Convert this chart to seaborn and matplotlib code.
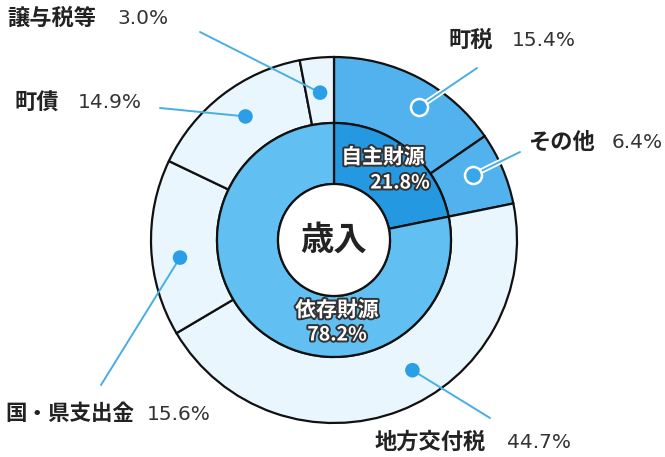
import numpy as np
import matplotlib
matplotlib.use("Agg")
import matplotlib.pyplot as plt
import matplotlib.patheffects as pe
import seaborn as sns

# ---- data ----
outer_labels = ["町税", "その他", "地方交付税", "国・県支出金", "町債", "譲与税等"]
outer_values = [15.4, 6.4, 44.7, 15.6, 14.9, 3.0]
inner_labels = ["自主財源", "依存財源"]
inner_values = [21.8, 78.2]
center_label = "歳入"

# ---- style ----
sns.set_theme(style="white")
plt.rcParams['font.family'] = ['Noto Sans CJK JP', 'DejaVu Sans']

W, H = 665, 457
fig = plt.figure(figsize=(W / 100, H / 100), dpi=100)
ax = fig.add_axes([0, 0, 1, 1])
ax.set_xlim(0, W)
ax.set_ylim(0, H)
ax.set_aspect('equal')
ax.axis('off')

def Y(y):
    return H - y

cx, cy = 334, Y(240)
R_out, R_in, R_hole = 183, 117, 56

outer_colors = ["#52B2EE", "#52B2EE", "#E9F6FD", "#E9F6FD", "#E9F6FD", "#E9F6FD"]
inner_colors = ["#2598E2", "#62BFF2"]
edge = dict(edgecolor="#111111", linewidth=1.6)

ax.pie(outer_values, radius=R_out, center=(cx, cy), colors=outer_colors,
       startangle=90, counterclock=False,
       wedgeprops=dict(width=R_out - R_in, **edge))
ax.pie(inner_values, radius=R_in, center=(cx, cy), colors=inner_colors,
       startangle=90, counterclock=False,
       wedgeprops=dict(width=R_in - R_hole, **edge))
ax.add_patch(plt.Circle((cx, cy), R_hole, facecolor="white", edgecolor="#111111",
                        linewidth=1.6, zorder=3))
ax.set_xlim(0, W)
ax.set_ylim(0, H)

ax.text(cx, cy, center_label, ha='center', va='center', fontsize=24,
        fontweight='bold', color="#222222", zorder=5)

# inner labels
stroke = [pe.withStroke(linewidth=2.8, foreground="#333333")]
inner_pos = [((383, 157), (400, 183)), ((337, 310), (337, 335))]
for (lab, val, (p1, p2)) in zip(inner_labels, inner_values, inner_pos):
    ax.text(p1[0], Y(p1[1]), lab, ha='center', va='center', fontsize=15,
            fontweight='bold', color='white', path_effects=stroke, zorder=6)
    ax.text(p2[0], Y(p2[1]), f"{val}%", ha='center', va='center', fontsize=14,
            fontweight='bold', color='white', path_effects=stroke, zorder=6)

# outer markers / leader lines / labels
cum = np.concatenate([[0], np.cumsum(outer_values)])
mid_frac = (cum[:-1] + cum[1:]) / 2 / 100.0
angle_shift = [-5, 2, 10, 4, -2, 0]        # degrees, visual placement
dot_r = [158, 153, 152, 155, 152, 148]
line_end = [(477, 68), (520, 152), (490, 418), (101, 385), (160, 108), (200, 32)]
name_pos = [(448, 40), (528, 142), (375, 442), (5, 414), (15, 103), (7, 18)]
name_size = [16, 16, 16, 15.5, 16, 16]
pct_x = [512, 612, 507, 147, 78, 117]
ring_dot = [True, True, False, False, False, False]
line_col = "#49AEE3"
dot_col = "#2A9FE8"

for i, lab in enumerate(outer_labels):
    ang = np.deg2rad(90 - mid_frac[i] * 360 + angle_shift[i])
    dx = cx + dot_r[i] * np.cos(ang)
    dy = cy + dot_r[i] * np.sin(ang)
    ex, ey = line_end[i][0], Y(line_end[i][1])
    if ring_dot[i]:
        ax.plot([dx, ex], [dy, ey], color="white", linewidth=4.0, zorder=4,
                solid_capstyle='butt')
    ax.plot([dx, ex], [dy, ey], color=line_col, linewidth=1.4, zorder=4,
            solid_capstyle='round')
    if ring_dot[i]:
        ax.scatter([dx], [dy], s=150, color="#3AA6EA", edgecolors='white',
                   linewidths=1.8, zorder=7)
    else:
        ax.scatter([dx], [dy], s=110, color=dot_col, edgecolors='none', zorder=7)
    nx, ny = name_pos[i]
    ax.text(nx, Y(ny), lab, ha='left', va='center', fontsize=name_size[i],
            fontweight='bold', color="#222222")
    ax.text(pct_x[i], Y(ny), f"{outer_values[i]}%", ha='left', va='center',
            fontsize=14.5, color="#333333", family='DejaVu Sans')

fig.savefig("out.png", dpi=100)
